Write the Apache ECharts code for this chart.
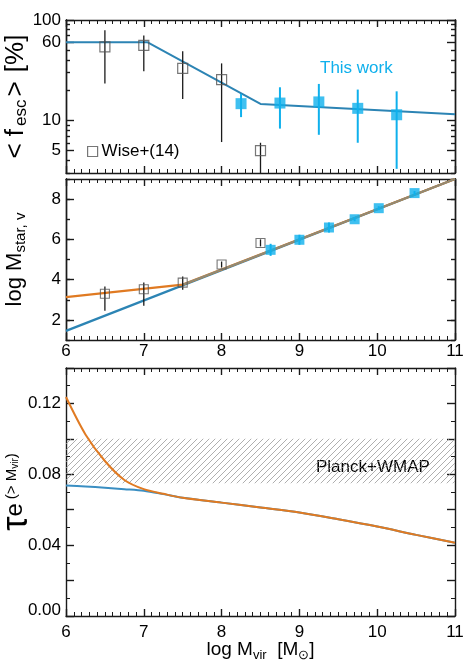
<!DOCTYPE html>
<html><head><meta charset="utf-8">
<script src="https://cdn.jsdelivr.net/npm/echarts@6/dist/echarts.min.js"></script>
<style>html,body{margin:0;padding:0;background:#fff}#c{width:469px;height:670px}</style>
</head><body><div id="c"></div>
<script>
// ---------- data ----------
// panel 1: mean escape fraction (%)
const wiseM = [6.5, 7.0, 7.5, 8.0, 8.5];
const wiseFesc = [54, 56, 33, 25.5, 5.0];
const wiseFescLo = [23.3, 30.9, 16.4, 6.1, 3.0];
const wiseFescHi = [79, 70, 49, 37, 6.0];
const thisM = [8.25, 8.75, 9.25, 9.75, 10.25];
const thisFesc = [14.7, 14.9, 15.3, 13.2, 11.4];
const thisFescLo = [10.8, 8.3, 7.2, 6.0, 3.3];
const thisFescHi = [18.4, 21.4, 23.1, 20.3, 19.5];
const fitM = [6, 7.05, 8.5, 11];
const fitFesc = [60, 60, 14.6, 11.5];
const fescLabels = [5, 10, 60, 100];
const fescMinor = [3, 4, 6, 7, 8, 9, 20, 30, 40, 50, 70, 80, 90];
// panel 2: log stellar mass
const wiseMs = [3.3, 3.52, 3.85, 4.75, 5.82];
const wiseMsLo = [2.45, 2.7, 3.5, 4.6, 5.65];
const wiseMsHi = [3.66, 3.86, 4.15, 4.9, 6.0];
const thisMsM = [8.63, 9.0, 9.38, 9.71, 10.02, 10.48];
const thisMs = [5.48, 5.98, 6.59, 7.0, 7.55, 8.3];
const thisMsLo = [5.18, 5.73, 6.34, 6.9, 7.45, 8.2];
const thisMsHi = [5.78, 6.23, 6.84, 7.1, 7.65, 8.4];
const relBlueM = [6, 11];
const relBlue = [1.45, 9.0];
const relOrangeM = [6, 7.5, 11];
const relOrange = [3.13, 3.75, 9.0];
const msLabels = [2, 4, 6, 8];
// panel 3: optical depth
const tauM = [6, 6.25, 6.5, 6.75, 7, 7.25, 7.5, 8, 8.5, 9, 9.5, 10, 10.5, 11];
const tauBlue = [0.0736, 0.0731, 0.0724, 0.0716, 0.0707, 0.0688, 0.0667, 0.0640, 0.0612, 0.0584, 0.0546, 0.0505, 0.0458, 0.0414];
const tauOrange = [0.1236, 0.1025, 0.0875, 0.0768, 0.0716, 0.0690, 0.0667, 0.0640, 0.0612, 0.0584, 0.0546, 0.0505, 0.0458, 0.0414];
const planckBand = [0.075, 0.100];
const tauLabels = [0, 0.04, 0.08, 0.12];
const massLabels = [6, 7, 8, 9, 10, 11];

// ---------- styles ----------
const FONT = 'Liberation Sans';
const BLACK = '#1a1a1a';
const CYAN = '#0fb0ec';
const BLUE = '#2c84b4';
const ORANGE = '#e07a22';
const L10 = Math.log10;
const lineStyle = {color: BLACK, width: 1.4};
const labelStyle = {fontSize: 17, color: '#000', fontFamily: FONT};

function xAx(grid, pos, showLabel, margin) {
  return {type: 'value', gridIndex: grid, position: pos, min: 6, max: 11, interval: 1,
    axisLine: {show: true, onZero: false, lineStyle},
    axisTick: {show: true, inside: true, length: 7, lineStyle},
    minorTick: {show: true, splitNumber: 10, length: 4, lineStyle: {color: BLACK, width: 1}},
    splitLine: {show: false}, minorSplitLine: {show: false},
    axisLabel: Object.assign({show: showLabel, margin: margin || 4,
      customValues: massLabels, formatter: v => String(Math.round(v))}, labelStyle)};
}
function yAx(grid, pos, min, max, ticks, len, labels, fmt, extra) {
  const a = {type: 'value', gridIndex: grid, position: pos, min, max,
    axisLine: {show: true, onZero: false, lineStyle},
    axisTick: {show: true, inside: true, length: len, customValues: ticks, lineStyle},
    splitLine: {show: false},
    axisLabel: Object.assign({show: !!labels, margin: 5, customValues: labels || undefined, formatter: fmt}, labelStyle)};
  return Object.assign(a, extra || {});
}
function errSeries(name, xi, yi, xs, lo, hi, color, width, tf) {
  tf = tf || (v => v);
  return {type: 'custom', name, xAxisIndex: xi, yAxisIndex: yi, silent: true, z: 3,
    data: xs.map((x, i) => [x, tf(lo[i]), tf(hi[i])]),
    renderItem: (p, api) => {
      const a = api.coord([api.value(0), api.value(1)]);
      const b = api.coord([api.value(0), api.value(2)]);
      return {type: 'line', shape: {x1: a[0], y1: a[1], x2: b[0], y2: b[1]}, style: {stroke: color, lineWidth: width}};
    }};
}
function hatch() {
  const c = document.createElement('canvas'); c.width = 6; c.height = 6;
  const g = c.getContext('2d'); g.strokeStyle = '#9a9a9a'; g.lineWidth = 0.8;
  g.beginPath(); g.moveTo(0, 6); g.lineTo(6, 0); g.moveTo(-1, 1); g.lineTo(1, -1); g.moveTo(5, 7); g.lineTo(7, 5); g.stroke();
  return c;
}

const fMin = L10(3), fMax = 2;
const fmtF = v => String(Math.round(Math.pow(10, v)));
const T = (o) => Object.assign({fontFamily: FONT, color: '#000'}, o);

const option = {
  animation: false,
  backgroundColor: '#fff',
  grid: [
    {left: 66, top: 20, width: 389, height: 153, outerBoundsMode: 'none', containLabel: false},
    {left: 66, top: 179, width: 389, height: 161, outerBoundsMode: 'none', containLabel: false},
    {left: 66, top: 368, width: 389, height: 248, outerBoundsMode: 'none', containLabel: false}
  ],
  xAxis: [
    xAx(0, 'bottom', false), xAx(1, 'bottom', true, 3),
    Object.assign(xAx(2, 'bottom', true, 8), {
      name: '{m|log M}{s|vir}{m|  [M}{s|⊙}{m|]}', nameLocation: 'middle', nameGap: 22, nameMoveOverlap: false,
      nameTextStyle: T({rich: {m: T({fontSize: 19, lineHeight: 24}), s: T({fontSize: 13, lineHeight: 13, verticalAlign: 'bottom'})}})
    }),
    xAx(0, 'top', false), xAx(1, 'top', false), xAx(2, 'top', false)
  ],
  yAxis: [
    yAx(0, 'left', fMin, fMax, fescLabels.map(L10), 8, fescLabels.map(L10), fmtF, {
      name: '{lt|<}{f|f}{s|esc}{gt|>}{m| [%]}', nameLocation: 'middle', nameRotate: 90, nameGap: 36, nameMoveOverlap: false,
      nameTextStyle: T({rich: {
        lt: T({fontSize: 26, lineHeight: 28, padding: [0, 7, 0, 0]}),
        f: T({fontSize: 26, lineHeight: 28, padding: [0, 3, 0, 0]}),
        s: T({fontSize: 17, lineHeight: 17, verticalAlign: 'bottom', padding: [0, 3, 0, 0]}),
        gt: T({fontSize: 26, lineHeight: 28, padding: [0, 2, 0, 0]}),
        m: T({fontSize: 26, lineHeight: 28})}})
    }),
    yAx(1, 'left', 1, 9, msLabels, 8, msLabels, v => String(Math.round(v)), {
      name: '{m|log M}{s|star, v}', nameLocation: 'middle', nameRotate: 90, nameGap: 38, nameMoveOverlap: false,
      nameTextStyle: T({rich: {m: T({fontSize: 22, lineHeight: 26}), s: T({fontSize: 15, lineHeight: 15, verticalAlign: 'bottom'})}})
    }),
    {type: 'value', gridIndex: 2, position: 'left', min: 0, max: 0.14, interval: 0.02,
      axisLine: {show: true, onZero: false, lineStyle},
      axisTick: {show: true, inside: true, length: 8, lineStyle},
      minorTick: {show: true, splitNumber: 2, length: 4, lineStyle: {color: BLACK, width: 1}},
      splitLine: {show: false}, minorSplitLine: {show: false},
      axisLabel: Object.assign({margin: 5, customValues: tauLabels,
        formatter: v => v === 0 ? '{z|0.00}' : v.toFixed(2),
        rich: {z: T({fontSize: 17, padding: [0, 0, 11, 0]})}}, labelStyle),
      name: '{t|τ}{e|e}{sp| }{p|(> M}{pv|vir}{p|)}', nameLocation: 'middle', nameRotate: 90, nameGap: 35, nameMoveOverlap: false,
      nameTextStyle: T({rich: {
        t: T({fontSize: 36, lineHeight: 28}),
        e: T({fontSize: 24, lineHeight: 28, padding: [0, 0, 4, 0]}),
        sp: T({fontSize: 14, lineHeight: 28}),
        p: T({fontSize: 15, lineHeight: 15, verticalAlign: 'top', padding: [1, 0, 0, 0]}),
        pv: T({fontSize: 10, lineHeight: 10, verticalAlign: 'top', padding: [7, 0, 0, 0]})}})},
    yAx(0, 'left', fMin, fMax, fescMinor.map(L10), 4, null, null),
    yAx(0, 'right', fMin, fMax, fescLabels.map(L10), 8, null, null),
    yAx(0, 'right', fMin, fMax, fescMinor.map(L10), 4, null, null),
    {type: 'value', gridIndex: 1, position: 'left', min: 1, max: 9, interval: 1,
      axisLine: {show: true, onZero: false, lineStyle}, axisTick: {show: true, inside: true, length: 4, lineStyle},
      splitLine: {show: false}, axisLabel: {show: false}},
    yAx(1, 'right', 1, 9, msLabels, 8, null, null),
    {type: 'value', gridIndex: 1, position: 'right', min: 1, max: 9, interval: 1,
      axisLine: {show: true, onZero: false, lineStyle}, axisTick: {show: true, inside: true, length: 4, lineStyle},
      splitLine: {show: false}, axisLabel: {show: false}},
    {type: 'value', gridIndex: 2, position: 'right', min: 0, max: 0.14, interval: 0.02,
      axisLine: {show: true, onZero: false, lineStyle},
      axisTick: {show: true, inside: true, length: 8, lineStyle},
      minorTick: {show: true, splitNumber: 2, length: 4, lineStyle: {color: BLACK, width: 1}},
      splitLine: {show: false}, minorSplitLine: {show: false}, axisLabel: {show: false}}
  ],
  legend: {
    data: [{name: 'Wise+(14)', icon: 'rect', itemStyle: {color: 'rgba(255,255,255,0)', borderColor: '#555', borderWidth: 1.2}}],
    left: 82, top: 138, itemWidth: 10, itemHeight: 10, itemGap: 4, selectedMode: false,
    textStyle: {fontSize: 17, color: '#000', fontFamily: FONT, padding: [0, 0, 0, -1]}
  },
  graphic: [
    {type: 'text', left: 320, top: 60, style: {text: 'This work', fontSize: 17, fontFamily: FONT, fill: CYAN}},
    {type: 'text', left: 316, top: 459, style: {text: 'Planck+WMAP', fontSize: 17, fontFamily: FONT, fill: '#000'}}
  ],
  series: [
    // panel 1
    {type: 'line', xAxisIndex: 0, yAxisIndex: 0, data: fitM.map((m, i) => [m, L10(fitFesc[i])]),
      symbol: 'none', lineStyle: {color: BLUE, width: 2}, z: 2},
    errSeries('wErr1', 0, 0, wiseM, wiseFescLo, wiseFescHi, BLACK, 1.3, L10),
    {type: 'scatter', name: 'Wise+(14)', xAxisIndex: 0, yAxisIndex: 0, symbol: 'rect', symbolSize: 10, z: 4,
      data: wiseM.map((m, i) => [m, L10(wiseFesc[i])]),
      itemStyle: {color: 'rgba(255,255,255,0)', borderColor: '#555', borderWidth: 1.2}},
    errSeries('tErr1', 0, 0, thisM, thisFescLo, thisFescHi, CYAN, 2, L10),
    {type: 'scatter', name: 'This work', xAxisIndex: 0, yAxisIndex: 0, symbol: 'rect', symbolSize: 11, z: 4,
      data: thisM.map((m, i) => [m, L10(thisFesc[i])]), itemStyle: {color: CYAN}},
    // panel 2
    {type: 'line', xAxisIndex: 1, yAxisIndex: 1, data: relBlueM.map((m, i) => [m, relBlue[i]]),
      symbol: 'none', lineStyle: {color: BLUE, width: 2.4}, z: 2},
    {type: 'line', xAxisIndex: 1, yAxisIndex: 1, data: relOrangeM.map((m, i) => [m, relOrange[i]]),
      symbol: 'none', lineStyle: {color: ORANGE, width: 2.4}, z: 2},
    {type: 'line', xAxisIndex: 1, yAxisIndex: 1, data: relOrangeM.slice(1).map((m, i) => [m, relOrange[i + 1]]),
      symbol: 'none', lineStyle: {color: '#8e8b78', width: 1.8}, z: 2},
    errSeries('wErr2', 1, 1, wiseM, wiseMsLo, wiseMsHi, BLACK, 1.3),
    {type: 'scatter', name: 'Wise ms', xAxisIndex: 1, yAxisIndex: 1, symbol: 'rect', symbolSize: 9, z: 4,
      data: wiseM.map((m, i) => [m, wiseMs[i]]),
      itemStyle: {color: 'rgba(255,255,255,0)', borderColor: '#555', borderWidth: 1.1}},
    errSeries('tErr2', 1, 1, thisMsM, thisMsLo, thisMsHi, CYAN, 2),
    {type: 'scatter', name: 'This ms', xAxisIndex: 1, yAxisIndex: 1, symbol: 'rect', symbolSize: 10, z: 4,
      data: thisMsM.map((m, i) => [m, thisMs[i]]), itemStyle: {color: CYAN}},
    // panel 3
    {type: 'line', xAxisIndex: 2, yAxisIndex: 2, data: tauM.map((m, i) => [m, tauBlue[i]]),
      symbol: 'none', smooth: 0.3, lineStyle: {color: '#3a8ec2', width: 2}, z: 2,
      markArea: {silent: true, itemStyle: {color: {image: hatch(), repeat: 'repeat'}},
        data: [[{yAxis: planckBand[0]}, {yAxis: planckBand[1]}]]}},
    {type: 'line', xAxisIndex: 2, yAxisIndex: 2, data: tauM.map((m, i) => [m, tauOrange[i]]),
      symbol: 'none', smooth: 0.3, lineStyle: {color: ORANGE, width: 2}, z: 3}
  ]
};
const chart = echarts.init(document.getElementById('c'), null, {renderer: 'canvas'});
chart.setOption(option);
</script>
</body></html>
